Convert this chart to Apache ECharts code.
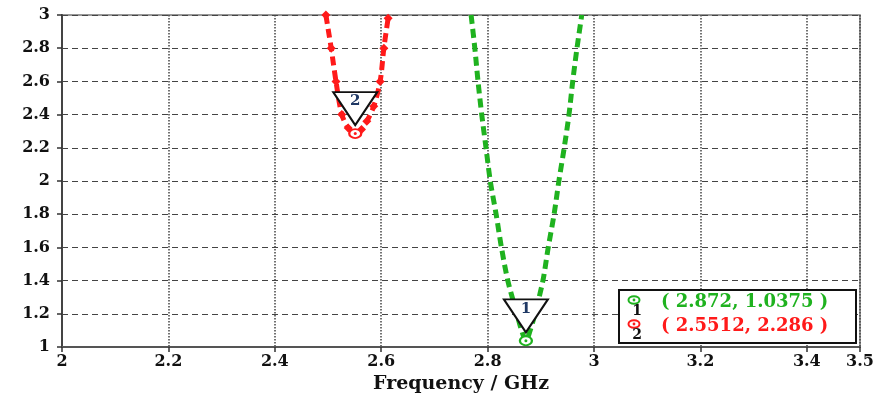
<!DOCTYPE html>
<html>
<head>
<meta charset="utf-8">
<script src="https://cdn.jsdelivr.net/npm/echarts@6/dist/echarts.min.js"></script>
<style>
html,body{margin:0;padding:0;background:#fff;}
#chart{width:884px;height:396px;}
</style>
</head>
<body>
<div id="chart"></div>
<script>
// ---- data ----
const greenFreq = [2.769, 2.776, 2.782, 2.789, 2.797, 2.805, 2.816, 2.826, 2.838, 2.855, 2.864, 2.872, 2.880, 2.889, 2.904, 2.914, 2.925, 2.934, 2.944, 2.953, 2.960, 2.968, 2.977];
const greenVSWR = [3.0, 2.8, 2.6, 2.4, 2.2, 2.0, 1.8, 1.6, 1.4, 1.2, 1.1, 1.0375, 1.1, 1.2, 1.4, 1.6, 1.8, 2.0, 2.2, 2.4, 2.6, 2.8, 3.0];
const redFreq = [2.496, 2.506, 2.515, 2.526, 2.538, 2.5512, 2.563, 2.573, 2.586, 2.598, 2.605, 2.613];
const redVSWR = [3.0, 2.8, 2.6, 2.4, 2.32, 2.286, 2.31, 2.36, 2.45, 2.6, 2.8, 2.98];
const markerNames = ['1', '2'];
const markerFreq = [2.872, 2.5512];
const markerVSWR = [1.0375, 2.286];
const markerColors = ['#1fb21f', '#ff1a1a'];
const xMin = 2, xMax = 3.5, xStep = 0.2;
const yMin = 1, yMax = 3, yStep = 0.2;
const xTitle = 'Frequency / GHz';

const zip = (a, b) => a.map((v, i) => [v, b[i]]);
const FONT = 'DejaVu Serif';

const chart = echarts.init(document.getElementById('chart'));

const legendGraphics = [{
  type: 'rect', left: 618, top: 289,
  shape: {width: 237, height: 53},
  style: {fill: '#fff', stroke: '#111', lineWidth: 2}, z: 100
}];
markerNames.forEach((n, i) => {
  const cy = 300 + i * 24;
  legendGraphics.push({
    type: 'ellipse', shape: {cx: 634, cy: cy, rx: 5.5, ry: 3.8},
    style: {fill: 'none', stroke: markerColors[i], lineWidth: 2}, z: 101
  });
  legendGraphics.push({
    type: 'circle', shape: {cx: 634, cy: cy, r: 1.4},
    style: {fill: markerColors[i]}, z: 101
  });
  legendGraphics.push({
    type: 'text', x: 637, y: cy + 11,
    style: {text: n, fill: '#111', font: 'bold 14px "' + FONT + '"', align: 'center', verticalAlign: 'middle'}, z: 101
  });
  legendGraphics.push({
    type: 'text', x: 661, y: cy + 2,
    style: {text: '( ' + markerFreq[i] + ', ' + markerVSWR[i] + ' )', fill: markerColors[i],
            font: 'bold 18px "' + FONT + '"', align: 'left', verticalAlign: 'middle'}, z: 101
  });
});

const option = {
  animation: false,
  backgroundColor: '#fff',
  grid: {left: 62, right: 24, top: 15, bottom: 49, containLabel: false, outerBoundsMode: 'none',
         show: true, borderColor: '#777', borderWidth: 1.5},
  xAxis: {
    type: 'value', min: xMin, max: xMax, interval: xStep,
    name: xTitle, nameLocation: 'middle', nameGap: 27,
    nameTextStyle: {fontFamily: FONT, fontWeight: 'bold', fontSize: 19, color: '#111'},
    axisLine: {show: true, lineStyle: {color: '#555', width: 2}},
    axisTick: {show: true, length: 5, lineStyle: {color: '#333', width: 1.5}},
    axisLabel: {show: true, showMaxLabel: true, showMinLabel: true, margin: 7, fontFamily: FONT, fontWeight: 'bold', fontSize: 16, color: '#111',
      formatter: v => String(Math.round(v * 10) / 10)},
    splitLine: {show: true, lineStyle: {color: '#444', type: 'dotted', width: 1.5}}
  },
  yAxis: {
    type: 'value', min: yMin, max: yMax, interval: yStep,
    axisLine: {show: true, lineStyle: {color: '#444', width: 2}},
    axisTick: {show: true, length: 5, lineStyle: {color: '#333', width: 1.5}},
    axisLabel: {show: true, margin: 12, fontFamily: FONT, fontWeight: 'bold', fontSize: 16, color: '#111',
      formatter: v => String(Math.round(v * 10) / 10)},
    splitLine: {show: true, lineStyle: {color: '#444', type: [6, 4], width: 1}}
  },
  series: [
    {
      type: 'line', data: zip(greenFreq, greenVSWR), showSymbol: false, smooth: 0.3,
      lineStyle: {color: '#1fb21f', width: 5, type: [9, 5]}, z: 2
    },
    {
      type: 'line', data: zip(redFreq, redVSWR), showSymbol: true, symbol: 'diamond', symbolSize: 9,
      itemStyle: {color: '#ff1a1a', opacity: 1}, smooth: 0.3,
      lineStyle: {color: '#ff1a1a', width: 5, type: [9, 5]}, z: 2
    },
    {
      type: 'scatter', data: markerFreq.map((f, i) => ({value: [f, markerVSWR[i]], itemStyle: {color: markerColors[i], borderColor: markerColors[i]}})),
      symbol: 'emptyCircle', symbolSize: [12, 9], itemStyle: {borderWidth: 2.5, opacity: 1}, z: 8
    },
    {
      type: 'scatter', data: markerFreq.map((f, i) => ({value: [f, markerVSWR[i]], itemStyle: {color: markerColors[i]}})),
      symbol: 'circle', symbolSize: 3, itemStyle: {opacity: 1}, z: 9
    },
    {
      type: 'scatter', data: markerFreq.map((f, i) => ({value: [f, markerVSWR[i]], name: markerNames[i]})),
      symbol: 'path://M0,0L44,0L22,33Z', symbolSize: [44, 33], symbolOffset: [0, -25], symbolKeepAspect: false,
      itemStyle: {color: '#fff', borderColor: '#111', borderWidth: 2, opacity: 1},
      label: {show: true, position: 'inside', offset: [0, -7], formatter: p => p.name,
        fontFamily: FONT, fontWeight: 'bold', fontSize: 15, color: '#1f3864'},
      z: 7
    }
  ],
  graphic: legendGraphics
};
chart.setOption(option);
</script>
</body>
</html>
